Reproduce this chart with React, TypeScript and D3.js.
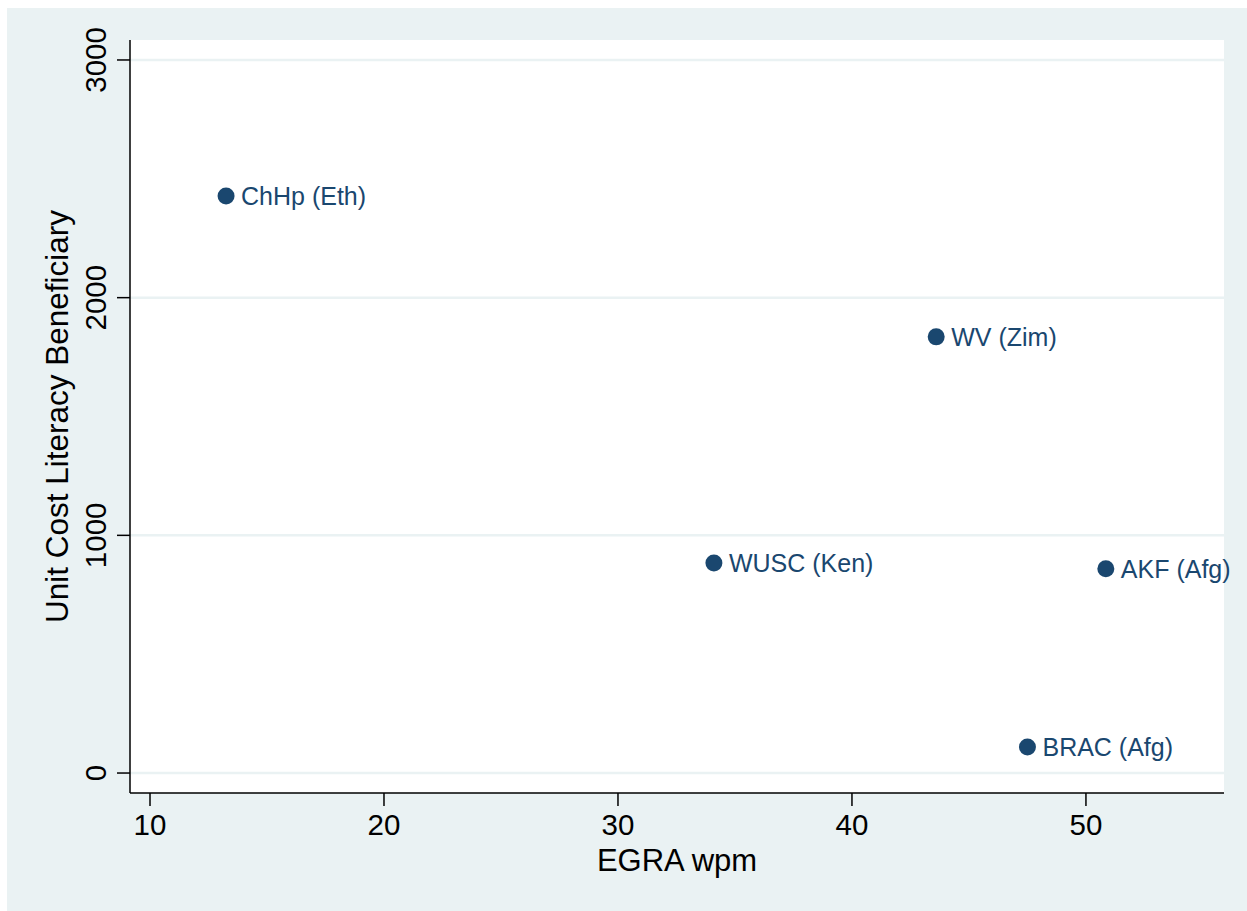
import React from "react";
import * as d3 from "d3";

// data
const programs = ["ChHp (Eth)", "WV (Zim)", "WUSC (Ken)", "AKF (Afg)", "BRAC (Afg)"];
const egraWpm = [13.25, 43.6, 34.1, 50.85, 47.5];
const unitCost = [2428, 1835, 884, 859, 110];
const xTicks = [10, 20, 30, 40, 50];
const yTicks = [0, 1000, 2000, 3000];

const App = () => {
  const dimensions = { width: 1247, height: 911 };
  const plot = { left: 130, right: 1224, top: 40, bottom: 793 };
  const navy = "#1a476f";
  const bg = "#eaf2f3";
  const font = "'Liberation Sans', Arial, Helvetica, sans-serif";

  // define scales
  const scales = {
    x: d3.scaleLinear().domain([9.145, 55.9]).range([plot.left, plot.right]),
    y: d3.scaleLinear().domain([-84, 3084]).range([plot.bottom, plot.top]),
  };

  const points = programs.map((name, i) => ({
    name,
    x: egraWpm[i],
    y: unitCost[i],
  }));

  return (
    <div style={{ position: "absolute", left: 0, top: 0 }}>
      <svg
        width={dimensions.width}
        height={dimensions.height}
        style={{ display: "block" }}
        fontFamily={font}
      >
        <rect x={0} y={0} width={dimensions.width} height={dimensions.height} fill="#fff" />
        <rect x={7} y={8} width={dimensions.width - 7} height={dimensions.height - 8} fill={bg} />
        <rect
          x={plot.left}
          y={plot.top}
          width={plot.right - plot.left}
          height={plot.bottom - plot.top}
          fill="#fff"
        />

        {/* gridlines */}
        {yTicks.map((t) => (
          <line
            key={`g${t}`}
            x1={plot.left}
            x2={plot.right}
            y1={scales.y(t)}
            y2={scales.y(t)}
            stroke={bg}
            strokeWidth={2.5}
          />
        ))}

        {/* y axis */}
        <line x1={plot.left} x2={plot.left} y1={plot.top} y2={plot.bottom} stroke="#000" strokeWidth={1.5} />
        {yTicks.map((t) => (
          <g key={`y${t}`} transform={`translate(0, ${scales.y(t)})`}>
            <line x1={plot.left - 13} x2={plot.left} stroke="#000" strokeWidth={1.5} />
            <text
              transform={`translate(106, 0) rotate(-90)`}
              textAnchor="middle"
              fontSize={29.5}
              fill="#000"
            >
              {t}
            </text>
          </g>
        ))}
        <text
          transform={`translate(68, ${(plot.top + plot.bottom) / 2}) rotate(-90)`}
          textAnchor="middle"
          fontSize={31.5}
          fill="#000"
        >
          Unit Cost Literacy Beneficiary
        </text>

        {/* x axis */}
        <line x1={plot.left} x2={plot.right} y1={plot.bottom} y2={plot.bottom} stroke="#000" strokeWidth={1.5} />
        {xTicks.map((t) => (
          <g key={`x${t}`} transform={`translate(${scales.x(t)}, 0)`}>
            <line y1={plot.bottom} y2={plot.bottom + 13} stroke="#000" strokeWidth={1.5} />
            <text y={835} textAnchor="middle" fontSize={29.5} fill="#000">
              {t}
            </text>
          </g>
        ))}
        <text
          x={(plot.left + plot.right) / 2}
          y={871}
          textAnchor="middle"
          fontSize={31}
          fill="#000"
        >
          EGRA wpm
        </text>

        {/* points */}
        {points.map((d) => (
          <g key={d.name} transform={`translate(${scales.x(d.x)}, ${scales.y(d.y)})`}>
            <circle r={8.5} fill={navy} />
            <text x={15} y={9} fontSize={25} fill={navy}>
              {d.name}
            </text>
          </g>
        ))}
      </svg>
    </div>
  );
};

export default App;
